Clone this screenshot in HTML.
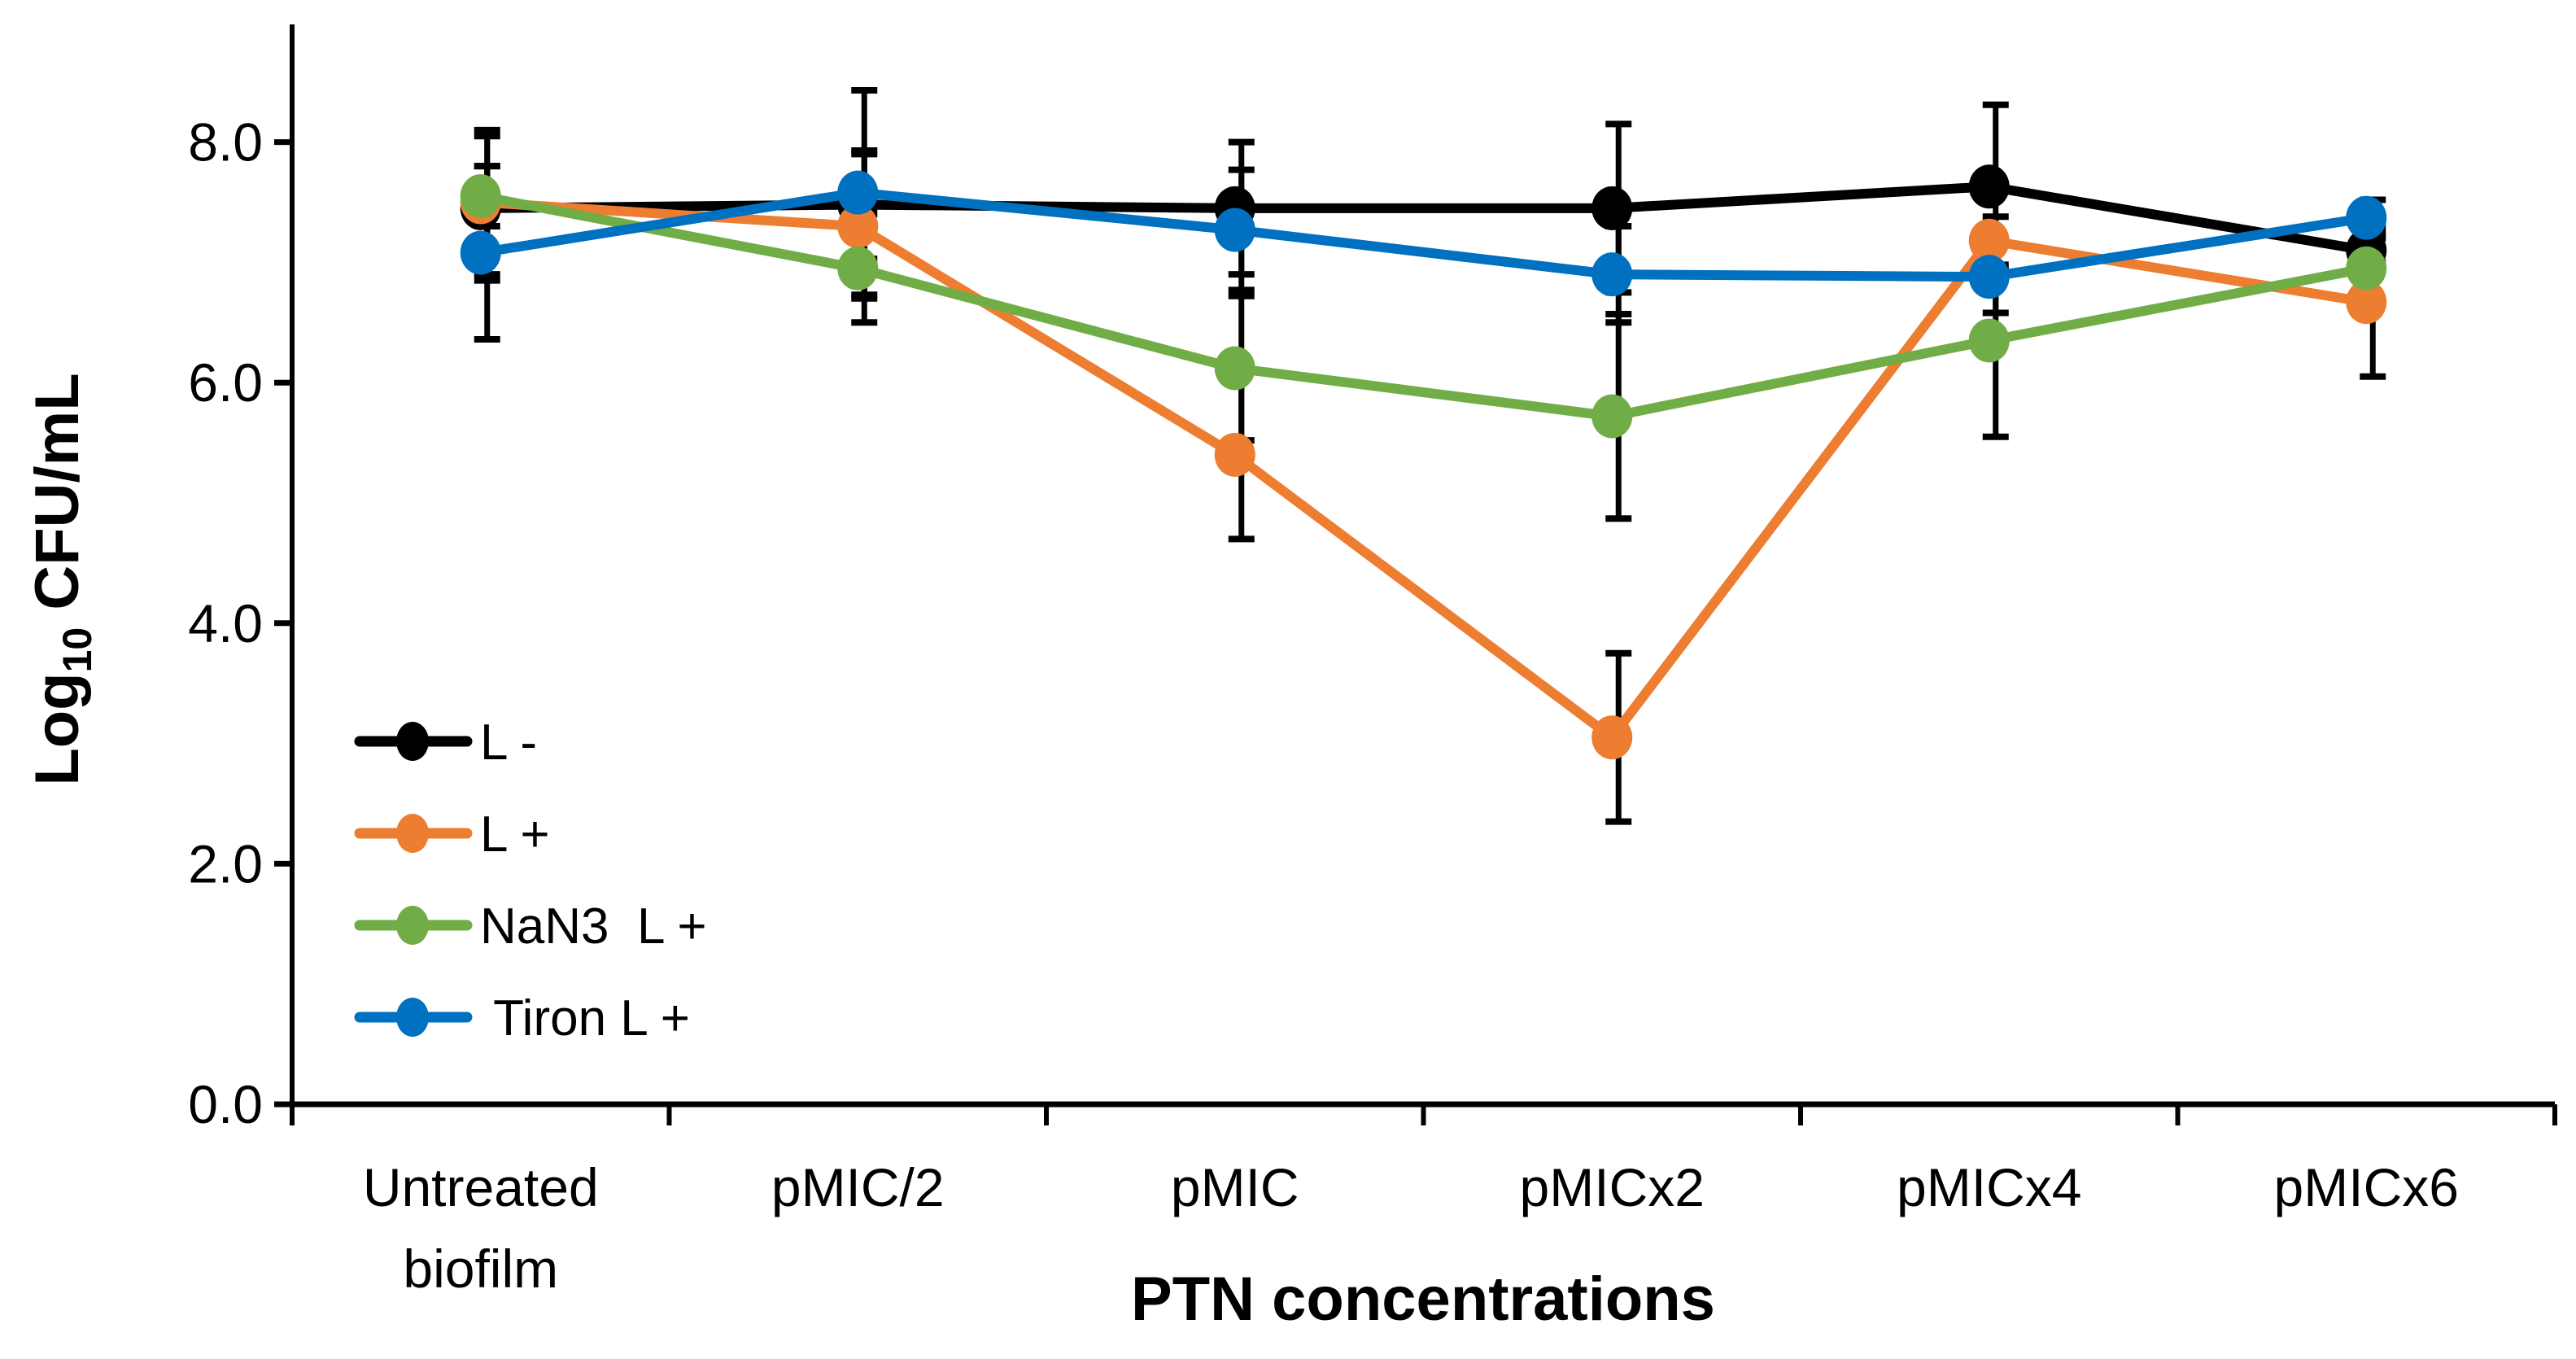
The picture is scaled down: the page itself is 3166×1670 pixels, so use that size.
<!DOCTYPE html>
<html><head><meta charset="utf-8"><style>
html,body{margin:0;padding:0;background:#fff;}
svg{display:block;font-family:"Liberation Sans",sans-serif;}
</style></head><body>
<svg id="chart" width="3166" height="1670" viewBox="0 0 3166 1670" xmlns="http://www.w3.org/2000/svg">
<g id="axes"></g>
<g id="errs"></g>
<g id="series"></g>
<g id="legend"></g>
<text transform="translate(96,712) rotate(-90)" text-anchor="middle" font-size="76" font-weight="bold">Log<tspan font-size="50" dy="16">10</tspan><tspan dy="-16"> CFU/mL</tspan></text>
<text x="1749" y="1622" text-anchor="middle" font-size="76" font-weight="bold">PTN concentrations</text>
</svg>
<script>
const categories = [["Untreated","biofilm"],["pMIC/2"],["pMIC"],["pMICx2"],["pMICx4"],["pMICx6"]];
const yTicks = [0,2,4,6,8];
const yTickLabels = ["0.0","2.0","4.0","6.0","8.0"];
const seriesNames = ["L -","L +","NaN3  L +"," Tiron L +"];
const seriesColors = ["#000000","#ED7D31","#70AD47","#0070C0"];
const valsLminus = [7.45,7.48,7.45,7.45,7.63,7.1];
const valsLplus = [7.5,7.3,5.4,3.05,7.18,6.67];
const valsNaN3 = [7.55,6.95,6.12,5.72,6.35,6.95];
const valsTiron = [7.08,7.58,7.27,6.9,6.88,7.37];
const errLminus = [0.6,0.45,0.55,0.7,0.68,0.1];
const errLplus = [0.6,0.6,0.7,0.7,0.2,0.62];
const errNaN3 = [0.25,0.45,0.6,0.85,0.8,0.3];
const errTiron = [0.72,0.85,0.5,0.4,0.3,0.15];

const NS="http://www.w3.org/2000/svg";
const X0=359, X1=3140, Y0=1357, YTOP=30, UNIT=147.8;
const bandW=(X1-X0)/categories.length;
function xPos(i){return X0+bandW*(i+0.5);}
function yPos(v){return Y0-v*UNIT;}
function mk(tag,attrs,parent){const e=document.createElementNS(NS,tag);for(const k in attrs)e.setAttribute(k,attrs[k]);parent.appendChild(e);return e;}
const axes=document.getElementById('axes');
let e=mk('line',{x1:X0,y1:YTOP,x2:X0,y2:Y0+3,stroke:'#000','stroke-width':6},axes);


e=mk('line',{x1:X0-22,y1:Y0,x2:X1,y2:Y0,stroke:'#000','stroke-width':7},axes);


yTicks.forEach((t,i)=>{
  const y=yPos(t);
  let l=mk('line',{x1:X0-22,y1:y,x2:X0,y2:y,stroke:'#000','stroke-width':7},axes);
  
  
  let tx=mk('text',{x:X0-36,y:y+23,'text-anchor':'end','font-size':66},axes);
  tx.textContent=yTickLabels[i];
  
  
});
for(let i=0;i<=categories.length;i++){
  const x=X0+bandW*i;
  let l=mk('line',{x1:x,y1:Y0,x2:x,y2:Y0+26,stroke:'#000','stroke-width':6},axes);
  
  
}
categories.forEach((c,i)=>{
  c.forEach((ln,j)=>{
    let tx=mk('text',{x:xPos(i),y:1482+j*100,'text-anchor':'middle','font-size':66},axes);
    tx.textContent=ln;
    
    
  });
});
const allVals=[valsLminus,valsLplus,valsNaN3,valsTiron];
const allErr=[errLminus,errLplus,errNaN3,errTiron];
const errs=document.getElementById('errs');
allVals.forEach((vals,s)=>{
  vals.forEach((v,i)=>{
    const x=xPos(i)+8, ya=yPos(v+allErr[s][i]), yb=yPos(v-allErr[s][i]);
    let g=mk('g',{},errs);
    
    
    mk('line',{x1:x,y1:ya,x2:x,y2:yb,stroke:'#000','stroke-width':7},g);
    mk('line',{x1:x-16,y1:ya,x2:x+16,y2:ya,stroke:'#000','stroke-width':8},g);
    mk('line',{x1:x-16,y1:yb,x2:x+16,y2:yb,stroke:'#000','stroke-width':8},g);
  });
});
const ser=document.getElementById('series');
allVals.forEach((vals,s)=>{
  let g=mk('g',{},ser);
  
  
  let pl=mk('polyline',{points:vals.map((v,i)=>xPos(i)+','+yPos(v)).join(' '),fill:'none',stroke:seriesColors[s],'stroke-width':12,'stroke-linejoin':'round'},g);
  
  
  vals.forEach((v,i)=>{
    let c=mk('ellipse',{cx:xPos(i),cy:yPos(v),rx:25,ry:27,fill:seriesColors[s]},g);
    
    
  });
});
const leg=document.getElementById('legend');
seriesNames.forEach((n,s)=>{
  const y=911+s*113;
  let g=mk('g',{},leg);
  
  
  mk('line',{x1:442,y1:y,x2:574,y2:y,stroke:seriesColors[s],'stroke-width':13,'stroke-linecap':'round'},g);
  mk('ellipse',{cx:507,cy:y,rx:20,ry:24,fill:seriesColors[s]},g);
  let t=mk('text',{x:590,y:y+22,'font-size':62},g);
  t.setAttribute('style','white-space:pre');
  t.textContent=n;
});
</script>
</body></html>
